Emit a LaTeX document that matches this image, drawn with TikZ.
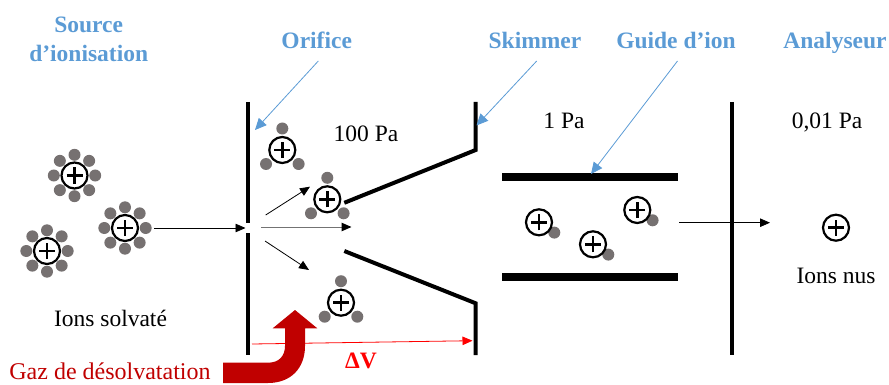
\documentclass[tikz,border=0pt]{standalone}
\usepackage{fontspec}
\setmainfont{Liberation Serif}
\usetikzlibrary{arrows.meta,calc}
\definecolor{lblue}{HTML}{5B9BD5}
\definecolor{dred}{HTML}{C00000}
\definecolor{sgray}{HTML}{767171}
\tikzset{
  ion/.style={circle,draw=black,line width=2.2pt,fill=white,minimum size=26pt,inner sep=0pt,
    path picture={\draw[line width=2.8pt,black] (path picture bounding box.center) +(-8pt,0) -- +(8pt,0) +(0,-8pt) -- +(0,8pt);}},
  sat/.style={circle,fill=sgray,draw=none,minimum size=12pt,inner sep=0pt},
  wall/.style={line width=4pt,black,line join=miter},
  plate/.style={line width=8pt,black},
  thinarrow/.style={-{Triangle[length=10pt,width=8.5pt]},line width=0.8pt,black},
  bluearrow/.style={-{Triangle[length=11.5pt,width=10.5pt]},line width=0.8pt,lblue},
  redarrow/.style={-{Triangle[length=10pt,width=8.5pt]},line width=0.8pt,red},
  bluelabel/.style={font=\fontsize{23.5}{29}\selectfont\bfseries,text=lblue,align=center,inner sep=0pt},
  plainlabel/.style={font=\fontsize{23.5}{27}\selectfont,text=black,inner sep=0pt,anchor=base},
}
\newcommand{\solvated}[3]{%
  \foreach \a [count=\i] in {0,45,...,315}{\node[sat] (#1s\i) at ($(#2,#3)+(\a:20.7pt)$) {};}
  \node[ion] (#1) at (#2,#3) {};}
\newcommand{\triple}[3]{%
  \node[sat] (#1a) at (#2,#3-21.5) {};
  \node[sat] (#1b) at (#2-16.3,#3+14) {};
  \node[sat] (#1c) at (#2+16.3,#3+14) {};
  \node[ion] (#1) at (#2,#3) {};}
\newcommand{\single}[3]{%
  \node[sat] (#1a) at (#2+15.3,#3+10.3) {};
  \node[ion] (#1) at (#2,#3) {};}
\begin{document}
\begin{tikzpicture}[x=1pt,y=-1pt]
\useasboundingbox (0,0) rectangle (889,385);
% ions
\solvated{ia}{74.5}{175.5}
\solvated{ib}{125}{228}
\solvated{ic}{47}{251}
\triple{ta}{282.3}{150}
\triple{tb}{327.3}{199.3}
\triple{tc}{341}{302.7}
\single{ga}{539}{222.3}
\single{gb}{593}{244.3}
\single{gc}{637.3}{210}
\node[ion] (bare) at (836,227.7) {};
% coordinates
\coordinate (oa) at (248.3,102);
\coordinate (ob) at (248.3,222.8);
\coordinate (oc) at (248.3,233.3);
\coordinate (od) at (248.3,355);
\coordinate (sa) at (475.7,102);
\coordinate (sb) at (475.7,150);
\coordinate (sc) at (344.3,202.8);
\coordinate (sd) at (344.3,251);
\coordinate (se) at (475.7,303.3);
\coordinate (sf) at (475.7,355);
\coordinate (pa) at (502,177);
\coordinate (pb) at (678,177);
\coordinate (pc) at (502,277);
\coordinate (pd) at (678,277);
\coordinate (va) at (732,102);
\coordinate (vb) at (732,355);
% walls
\draw[wall] (oa) -- (ob);
\draw[wall] (oc) -- (od);
\draw[wall] (sa) -- (sb) -- (sc);
\draw[wall] (sd) -- (se) -- (sf);
\draw[plate] (pa) -- (pb);
\draw[plate] (pc) -- (pd);
\draw[wall] (va) -- (vb);
% labels
\node[bluelabel] (lsource) at (88.7,39.5) {Source\\d’ionisation};
\node[bluelabel,anchor=base] (lorif) at (316.7,49) {Orifice};
\node[bluelabel,anchor=base] (lskim) at (535,49) {Skimmer};
\node[bluelabel,anchor=base] (lguide) at (676,49) {Guide d’ion};
\node[bluelabel,anchor=base] (lana) at (835,49) {Analyseur};
\node[plainlabel] (p1) at (366,141.7) {100 Pa};
\node[plainlabel] (p2) at (564,128.3) {1 Pa};
\node[plainlabel] (p3) at (827,128.3) {0,01 Pa};
\node[plainlabel] (lsolv) at (110.5,326.7) {Ions solvaté};
\node[plainlabel] (lnus) at (836,283.3) {Ions nus};
\node[plainlabel,text=dred,font=\fontsize{24}{27}\selectfont] (lgaz) at (110,379.3) {Gaz de désolvatation};
\node[plainlabel,text=red,font=\fontsize{23.5}{27}\selectfont\bfseries] (ldv) at (361,368) {ΔV};
% flow arrows
\coordinate (f0) at (154,228);
\coordinate (f1) at (245.5,228);
\coordinate (f2) at (265.7,215);
\coordinate (f3) at (310,186.7);
\coordinate (f4) at (261,227);
\coordinate (f5) at (351.5,227);
\coordinate (f6) at (265,241);
\coordinate (f7) at (309,270);
\coordinate (f8) at (679,222.7);
\coordinate (f9) at (770,222.7);
\draw[thinarrow] (f0) -- (f1);
\draw[thinarrow] (f2) -- (f3);
\draw[-{Triangle[length=10pt,width=8.5pt,black]},line width=1pt,black!55] (f4) -- (f5);
\draw[thinarrow] (f6) -- (f7);
\draw[thinarrow] (f8) -- (f9);
% blue arrows
\coordinate (ba) at (318.3,61);
\coordinate (bb) at (255,130);
\coordinate (bc) at (536.7,61);
\coordinate (bd) at (476.5,125.5);
\coordinate (be) at (677.5,61);
\coordinate (bf) at (591,174);
\draw[bluearrow] (ba) -- (bb);
\draw[bluearrow] (bc) -- (bd);
\draw[bluearrow] (be) -- (bf);
% red
\coordinate (ra) at (252,344);
\coordinate (rb) at (472.5,340.7);
\draw[redarrow] (ra) -- (rb);
\fill[dred] (223,362.7) -- (268,362.7) .. controls (279,362.7) and (285,356) .. (285,346)
  -- (285,328.3) -- (272.7,328.3) -- (295,310) -- (317.3,328.3) -- (305,328.3) -- (305,346)
  .. controls (305,368) and (291,383) .. (268,383) -- (223,383) -- cycle;
\end{tikzpicture}
\end{document}
